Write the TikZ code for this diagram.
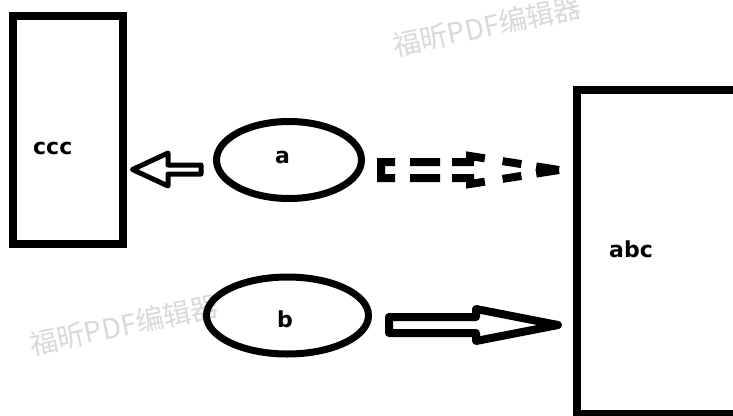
\documentclass[tikz,border=0pt]{standalone}
\usepackage{fontspec}
\setmainfont{DejaVu Sans}
\newfontfamily\cjk{Noto Sans CJK SC}
\usetikzlibrary{shapes.geometric}
\begin{document}
\begin{tikzpicture}[x=1pt,y=-1pt,
  box/.style={draw, line width=8pt, rectangle, inner sep=0pt},
  oval/.style={draw, ellipse, line width=7pt, inner sep=0pt},
  lbl/.style={font=\fontsize{22}{22}\selectfont\bfseries, inner sep=0pt, anchor=base west},
  blockarrow/.style={draw, line join=round},
  dasharrow/.style={draw, line width=8pt, line cap=butt,
    dash pattern=on 22pt off 15pt on 30pt off 12pt on 39pt off 18pt on 19pt off 15pt on 40pt},
  wm/.style={font=\cjk\fontsize{28}{28}\selectfont, text=black!15, rotate=12, inner sep=0pt}]
\useasboundingbox (0,0) rectangle (733,415);
\clip (0,0) rectangle (733,415);
\fill[white] (0,0) rectangle (733,415);

% watermarks
\node[wm] (wm1) at (487,26) {福昕PDF编辑器};
\node[wm] (wm2) at (124,325) {福昕PDF编辑器};

% boxes
\node[box, minimum width=110pt, minimum height=227.5pt] (ccc) at (67.5,129.75) {};
\node[box, minimum width=240pt, minimum height=324pt, anchor=north west] (abc) at (572.5,86) {};

% ellipses
\node[oval, minimum width=145pt, minimum height=77pt] (ea) at (289,160) {};
\node[oval, minimum width=162pt, minimum height=77pt] (eb) at (287.5,315.5) {};

% labels
\node[lbl] (tccc) at (33,154) {ccc};
\node[lbl] (tabc) at (609,257) {abc};
\node[lbl] (ta) at (275,163) {a};
\node[lbl] (tb) at (277,327) {b};

% left block arrow (a -> ccc)
\draw[blockarrow, line width=5pt] (201,165) -- (168,165) -- (168,153) -- (132.5,169.5)
  -- (168,186) -- (168,174) -- (201,174) -- cycle;

% bottom block arrow (b -> abc)
\draw[blockarrow, line width=8pt] (389,317) -- (476,317) -- (476,309) -- (558,325)
  -- (476,341) -- (476,333) -- (389,333) -- cycle;

% dashed block arrow (a -> abc)
\coordinate (dstart) at (381,170);
\coordinate (dtip) at (559,170);
\draw[dasharrow] (dstart) -- (381,162) -- (470,162) -- (470,156) -- (dtip);
\draw[dasharrow] (dstart) -- (381,178) -- (470,178) -- (470,184) -- (dtip);
\end{tikzpicture}
\end{document}
